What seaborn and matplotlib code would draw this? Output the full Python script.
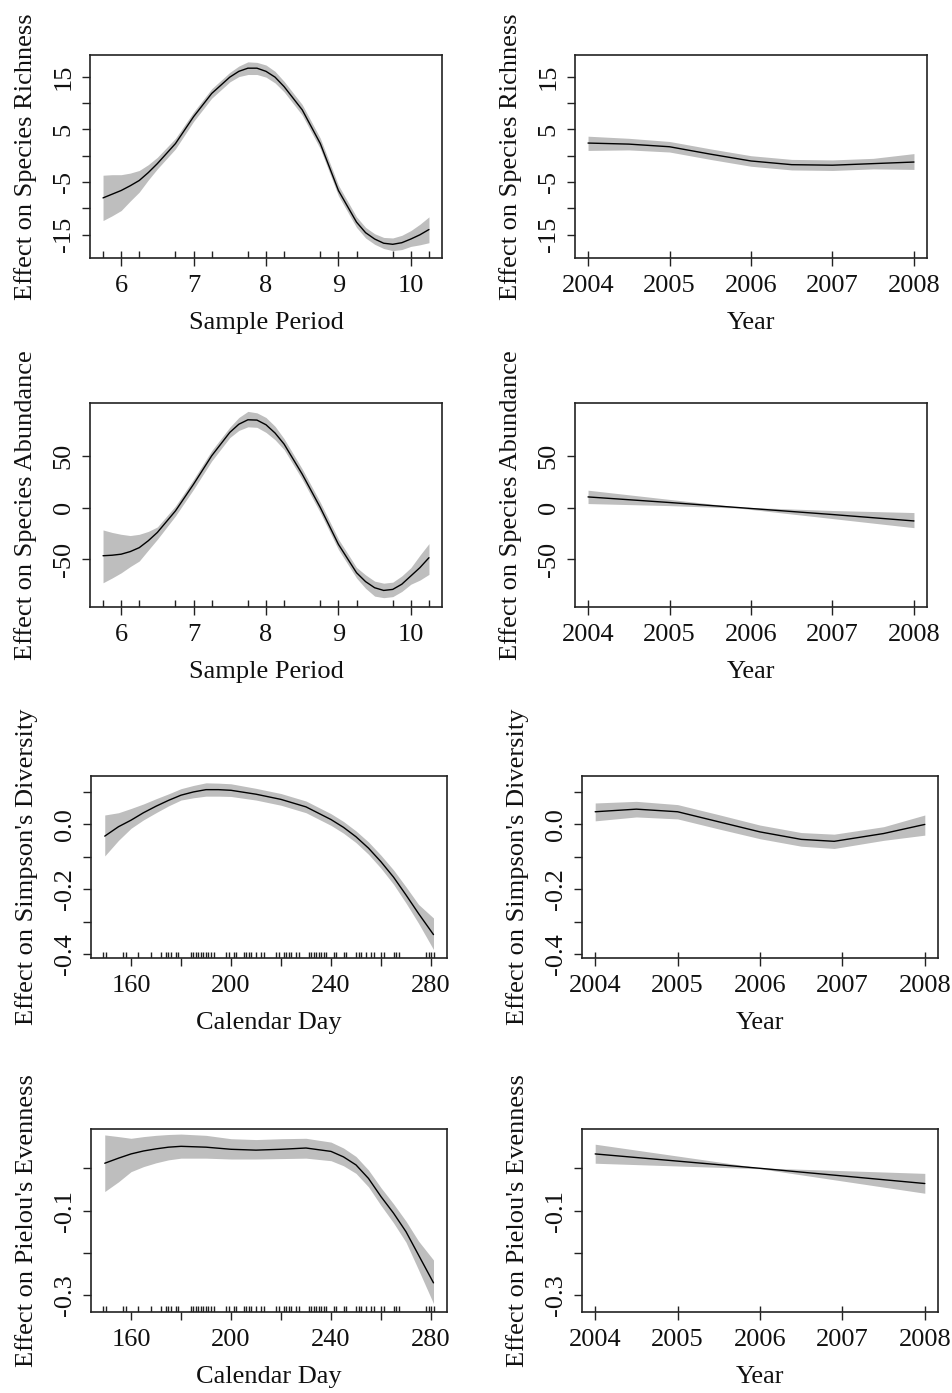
import matplotlib
matplotlib.use("Agg")
import matplotlib.pyplot as plt
import numpy as np
import seaborn as sns

# ---- smooth terms (x, fit, lower, upper) ----
period_x = [5.75, 5.875, 6.0, 6.125, 6.25, 6.375, 6.5, 6.75, 7.0, 7.25, 7.5, 7.625,
            7.75, 7.875, 8.0, 8.125, 8.25, 8.5, 8.75, 9.0, 9.25, 9.375, 9.5, 9.625,
            9.75, 9.875, 10.0, 10.125, 10.25]
rich_period_fit = [-8.0, -7.3, -6.6, -5.7, -4.7, -3.2, -1.5, 2.3, 7.4, 11.8, 14.9, 16.0,
                   16.6, 16.6, 16.0, 14.9, 13.1, 8.7, 2.3, -6.6, -12.6, -14.6, -15.8, -16.6,
                   -16.8, -16.5, -15.8, -15.0, -14.0]
rich_period_lo = [-12.3, -11.4, -10.4, -8.6, -6.9, -4.6, -2.5, 1.3, 6.5, 10.9, 14.0, 15.0,
                  15.4, 15.4, 14.9, 13.8, 12.1, 7.7, 1.3, -7.6, -13.6, -15.6, -16.8, -17.6,
                  -18.0, -17.8, -17.2, -16.9, -16.5]
rich_period_hi = [-3.7, -3.6, -3.6, -3.3, -2.8, -1.7, -0.3, 3.3, 8.3, 12.7, 15.8, 17.0,
                  17.8, 17.7, 17.2, 16.0, 14.1, 9.7, 3.3, -5.6, -11.6, -13.6, -14.8, -15.5,
                  -15.6, -15.1, -14.2, -13.0, -11.6]

abun_period_fit = [-46.5, -46.0, -45.0, -42.5, -38.7, -32.0, -24.0, -3.2, 22.6, 50.0, 72.6, 80.5,
                   84.8, 84.5, 80.0, 72.0, 61.3, 32.3, 0.0, -35.5, -62.9, -71.5, -77.4, -80.0,
                   -79.0, -74.0, -66.0, -58.0, -48.4]
abun_period_lo = [-72.6, -68.0, -63.0, -57.0, -51.6, -41.0, -30.6, -8.0, 17.7, 45.0, 67.6, 74.5,
                  78.0, 77.5, 72.6, 65.5, 56.0, 27.3, -5.0, -40.5, -68.0, -78.0, -85.5, -87.0,
                  -86.0, -81.0, -74.0, -70.0, -64.5]
abun_period_hi = [-21.6, -24.0, -25.8, -27.0, -25.8, -23.0, -18.7, 1.6, 27.4, 55.0, 77.6, 87.0,
                  92.9, 91.5, 87.0, 78.5, 66.5, 37.3, 5.0, -30.5, -57.8, -65.0, -71.0, -73.0,
                  -72.0, -66.0, -58.0, -46.0, -34.8]

rich_year_x = [2004, 2004.5, 2005, 2005.5, 2006, 2006.5, 2007, 2007.5, 2008]
rich_year_fit = [2.4, 2.2, 1.7, 0.3, -1.0, -1.7, -1.8, -1.5, -1.2]
rich_year_lo = [1.0, 1.1, 0.7, -0.7, -2.0, -2.7, -2.8, -2.5, -2.6]
rich_year_hi = [3.7, 3.3, 2.7, 1.3, 0.0, -0.7, -0.8, -0.5, 0.4]

abun_year_x = [2004, 2005, 2005.85, 2007, 2008]
abun_year_fit = [10.3, 4.9, 0.0, -6.7, -12.9]
abun_year_lo = [3.9, 1.9, -0.5, -10.6, -19.4]
abun_year_hi = [16.8, 7.9, 0.5, -2.8, -4.8]

day_x = [149.5, 155, 160, 165, 170, 175, 180, 185, 190, 195, 200, 210, 220, 230, 240,
         245, 250, 255, 260, 265, 270, 275, 281]
simp_day_fit = [-0.037, -0.008, 0.012, 0.035, 0.055, 0.073, 0.089, 0.099, 0.106, 0.106,
                0.104, 0.092, 0.076, 0.053, 0.014, -0.010, -0.039, -0.074, -0.116, -0.163,
                -0.218, -0.275, -0.340]
simp_day_lo = [-0.098, -0.050, -0.013, 0.013, 0.035, 0.056, 0.074, 0.081, 0.086, 0.086,
               0.085, 0.074, 0.058, 0.035, -0.004, -0.028, -0.057, -0.093, -0.136, -0.185,
               -0.243, -0.305, -0.386]
simp_day_hi = [0.028, 0.035, 0.048, 0.062, 0.078, 0.093, 0.109, 0.119, 0.127, 0.126,
               0.124, 0.110, 0.094, 0.071, 0.032, 0.008, -0.021, -0.055, -0.096, -0.141,
               -0.193, -0.247, -0.289]

piel_day_x = [149.5, 155, 160, 165, 170, 175, 180, 190, 200, 210, 220, 230, 240, 245,
              250, 255, 260, 265, 270, 275, 281]
piel_day_fit = [0.012, 0.024, 0.034, 0.041, 0.046, 0.050, 0.052, 0.050, 0.045, 0.043,
                0.045, 0.048, 0.040, 0.027, 0.008, -0.024, -0.067, -0.106, -0.150, -0.205,
                -0.271]
piel_day_lo = [-0.055, -0.032, -0.008, 0.004, 0.013, 0.020, 0.024, 0.024, 0.022, 0.022,
               0.023, 0.024, 0.018, 0.006, -0.012, -0.044, -0.088, -0.129, -0.175, -0.240,
               -0.320]
piel_day_hi = [0.079, 0.075, 0.071, 0.075, 0.078, 0.080, 0.081, 0.078, 0.070, 0.068,
               0.070, 0.071, 0.062, 0.048, 0.028, -0.004, -0.046, -0.084, -0.125, -0.172,
               -0.217]

simp_year_x = [2004, 2004.5, 2005, 2005.5, 2006, 2006.5, 2006.9, 2007.5, 2008]
simp_year_fit = [0.038, 0.046, 0.038, 0.007, -0.024, -0.047, -0.053, -0.029, -0.001]
simp_year_lo = [0.010, 0.022, 0.016, -0.015, -0.045, -0.068, -0.075, -0.050, -0.034]
simp_year_hi = [0.065, 0.070, 0.060, 0.029, -0.003, -0.026, -0.031, -0.008, 0.028]

piel_year_x = [2004, 2006, 2008]
piel_year_fit = [0.034, 0.0, -0.036]
piel_year_lo = [0.012, -0.001, -0.059]
piel_year_hi = [0.057, 0.001, -0.012]

# ---- rug (observed covariate values) ----
period_rug = [5.75, 6, 6.25, 6.75, 7, 7.25, 7.75, 8, 8.25, 8.75, 9, 9.25, 9.75, 10, 10.25]
year_rug = [2004, 2005, 2006, 2007, 2008]
day_rug = [149, 150, 157, 158, 163, 168, 172, 174, 175, 176, 178, 179, 184, 185, 186,
           187, 188, 189, 190, 191, 192, 193, 198, 199, 201, 202, 205, 206, 207, 208,
           210, 212, 213, 218, 219, 221, 222, 223, 224, 226, 227, 231, 232, 233, 234,
           235, 236, 237, 238, 241, 242, 245, 246, 250, 251, 252, 254, 256, 257, 260,
           261, 265, 266, 267, 278, 279, 280, 281]

# ---- axis ticks ----
period_ticks = [6, 7, 8, 9, 10]
year_ticks = [2004, 2005, 2006, 2007, 2008]
day_ticks = [160, 180, 200, 220, 240, 260, 280]
day_labels = ["160", "", "200", "", "240", "", "280"]
rich_ticks = [-15, -10, -5, 0, 5, 10, 15]
rich_labels = ["-15", "", "-5", "", "5", "", "15"]
abun_ticks = [-50, 0, 50]
simp_ticks = [-0.4, -0.3, -0.2, -0.1, 0.0, 0.1]
simp_labels = ["-0.4", "", "-0.2", "", "0.0", ""]
piel_ticks = [-0.3, -0.2, -0.1, 0.0]
piel_labels = ["-0.3", "", "-0.1", ""]

sns.set_style("ticks")
plt.rcParams["font.family"] = ["Liberation Serif", "DejaVu Serif"]
FS = 19

W, H = 952, 1393
fig = plt.figure(figsize=(W / 100, H / 100), dpi=100)
BAND = "#bebebe"
INK = "#111111"


def add_panel(box, x, fit, lo, hi, rug, xlim, ylim, xticks, xlabels,
              yticks, ylabels, xlabel, ylabel, rug_h):
    left, top, right, bottom = box
    ax = fig.add_axes([left / W, 1 - bottom / H, (right - left) / W, (bottom - top) / H])
    ax.fill_between(x, lo, hi, color=BAND, lw=0)
    sns.lineplot(x=x, y=fit, ax=ax, color="black", lw=1.0)
    sns.rugplot(x=rug, ax=ax, height=rug_h, color="#222222", lw=1.1,
                expand_margins=False)
    ax.set_xlim(xlim)
    ax.set_ylim(ylim)
    ax.set_xticks(xticks)
    ax.set_xticklabels(xlabels if xlabels else [str(t) for t in xticks])
    ax.set_yticks(yticks)
    ax.set_yticklabels(ylabels if ylabels else [str(t) for t in yticks])
    ax.tick_params(direction="out", length=6, width=1.0, color="#222222",
                   labelsize=FS, labelcolor=INK)
    ax.tick_params(axis="x", pad=14)
    ax.tick_params(axis="y", pad=13, labelrotation=90)
    for lab in ax.get_yticklabels():
        lab.set_va("center")
        lab.set_ha("center")
    for lab in ax.get_xticklabels():
        lab.set_va("center")
    for sp in ax.spines.values():
        sp.set_visible(True)
        sp.set_color("#222222")
        sp.set_linewidth(1.2)
    w_px = right - left
    h_px = bottom - top
    ax.set_xlabel(xlabel, fontsize=FS, va="center", color=INK)
    ax.set_ylabel(ylabel, fontsize=FS, va="center", color=INK)
    ax.xaxis.set_label_coords(0.5, -65 / h_px)
    ax.yaxis.set_label_coords(-64 / w_px, 0.5)
    return ax


rich_lim = (-19.4, 19.1)
abun_lim = (-96, 101)
simp_lim = (-0.412, 0.148)
piel_lim = (-0.34, 0.093)
period_lim = (5.57, 10.43)
year_lim = (2003.84, 2008.16)
day_lim = (144, 286.4)

# row 1
add_panel((90, 55, 442, 258), period_x, rich_period_fit, rich_period_lo, rich_period_hi,
          period_rug, period_lim, rich_lim, period_ticks, None, rich_ticks, rich_labels,
          "Sample Period", "Effect on Species Richness", 0.035)
add_panel((575, 55, 927, 258), rich_year_x, rich_year_fit, rich_year_lo, rich_year_hi,
          year_rug, year_lim, rich_lim, year_ticks, None, rich_ticks, rich_labels,
          "Year", "Effect on Species Richness", 0.035)
# row 2
add_panel((90, 403, 442, 607), period_x, abun_period_fit, abun_period_lo, abun_period_hi,
          period_rug, period_lim, abun_lim, period_ticks, None, abun_ticks, None,
          "Sample Period", "Effect on Species Abundance", 0.035)
add_panel((575, 403, 927, 607), abun_year_x, abun_year_fit, abun_year_lo, abun_year_hi,
          year_rug, year_lim, abun_lim, year_ticks, None, abun_ticks, None,
          "Year", "Effect on Species Abundance", 0.035)
# row 3
add_panel((91, 776, 447, 958), day_x, simp_day_fit, simp_day_lo, simp_day_hi,
          day_rug, day_lim, simp_lim, day_ticks, day_labels, simp_ticks, simp_labels,
          "Calendar Day", "Effect on Simpson's Diversity", 0.035)
add_panel((582, 776, 938, 958), simp_year_x, simp_year_fit, simp_year_lo, simp_year_hi,
          year_rug, year_lim, simp_lim, year_ticks, None, simp_ticks, simp_labels,
          "Year", "Effect on Simpson's Diversity", 0.035)
# row 4
add_panel((91, 1129, 447, 1312), piel_day_x, piel_day_fit, piel_day_lo, piel_day_hi,
          day_rug, day_lim, piel_lim, day_ticks, day_labels, piel_ticks, piel_labels,
          "Calendar Day", "Effect on Pielou's Evenness", 0.035)
add_panel((582, 1129, 938, 1312), piel_year_x, piel_year_fit, piel_year_lo, piel_year_hi,
          year_rug, year_lim, piel_lim, year_ticks, None, piel_ticks, piel_labels,
          "Year", "Effect on Pielou's Evenness", 0.035)

fig.savefig("out.png", dpi=100, facecolor="white")
